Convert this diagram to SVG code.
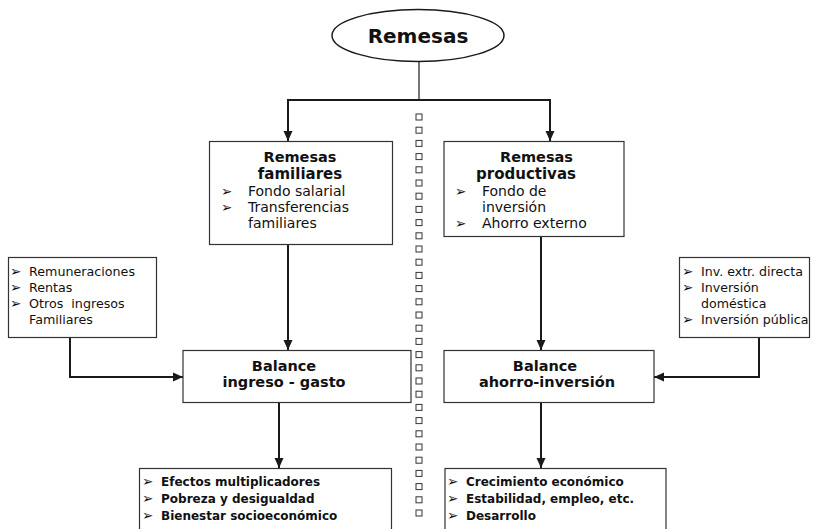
<svg xmlns="http://www.w3.org/2000/svg" xmlns:xlink="http://www.w3.org/1999/xlink" width="822" height="529" viewBox="0 0 822 529">
<style>
.box{fill:#fff;stroke:#333;stroke-width:1.2}
.t{font-family:"DejaVu Sans",Verdana,sans-serif;fill:#111}
.b{font-weight:bold}
.bul{font-family:"DejaVu Sans",sans-serif;font-size:13.5px;fill:#111}
.c{fill:none;stroke:#1a1a1a;stroke-width:2}
.thin{fill:none;stroke:#1a1a1a;stroke-width:1.2}
.sq{fill:#fff;stroke:#333;stroke-width:1}
</style>
<defs>
<marker id="ah" markerUnits="userSpaceOnUse" markerWidth="10" markerHeight="10" viewBox="0 0 10 10" refX="10" refY="5" orient="auto">
<path d="M0,0.5 L10,5 L0,9.5 Z" fill="#1a1a1a"/>
</marker>
<rect id="sq" width="6" height="6" class="sq"/>
</defs>
<rect width="822" height="529" fill="#fff"/>

<g id="connectors">
<line class="thin" x1="419" y1="62" x2="419" y2="100"/>
<line class="c" x1="287" y1="100" x2="551" y2="100"/>
<line class="c" x1="288" y1="100" x2="288" y2="141" marker-end="url(#ah)"/>
<line class="c" x1="550" y1="100" x2="550" y2="141" marker-end="url(#ah)"/>
<line class="c" x1="288" y1="245" x2="288" y2="350" marker-end="url(#ah)"/>
<line class="c" x1="541" y1="237" x2="541" y2="350" marker-end="url(#ah)"/>
<polyline class="c" points="70,337 70,377 183,377" marker-end="url(#ah)"/>
<polyline class="c" points="759,337 759,377 654,377" marker-end="url(#ah)"/>
<line class="c" x1="279" y1="403" x2="279" y2="468" marker-end="url(#ah)"/>
<line class="c" x1="541" y1="403" x2="541" y2="468" marker-end="url(#ah)"/>
</g>

<g id="separator">
<use xlink:href="#sq" x="416" y="114"/><use xlink:href="#sq" x="416" y="127.2"/><use xlink:href="#sq" x="416" y="140.4"/><use xlink:href="#sq" x="416" y="153.6"/><use xlink:href="#sq" x="416" y="166.8"/><use xlink:href="#sq" x="416" y="180"/><use xlink:href="#sq" x="416" y="193.2"/><use xlink:href="#sq" x="416" y="206.4"/><use xlink:href="#sq" x="416" y="219.6"/><use xlink:href="#sq" x="416" y="232.8"/><use xlink:href="#sq" x="416" y="246"/><use xlink:href="#sq" x="416" y="259.2"/><use xlink:href="#sq" x="416" y="272.4"/><use xlink:href="#sq" x="416" y="285.6"/><use xlink:href="#sq" x="416" y="298.8"/><use xlink:href="#sq" x="416" y="312"/><use xlink:href="#sq" x="416" y="325.2"/><use xlink:href="#sq" x="416" y="338.4"/><use xlink:href="#sq" x="416" y="351.6"/><use xlink:href="#sq" x="416" y="364.8"/><use xlink:href="#sq" x="416" y="378"/><use xlink:href="#sq" x="416" y="391.2"/><use xlink:href="#sq" x="416" y="404.4"/><use xlink:href="#sq" x="416" y="417.6"/><use xlink:href="#sq" x="416" y="430.8"/><use xlink:href="#sq" x="416" y="444"/><use xlink:href="#sq" x="416" y="457.2"/><use xlink:href="#sq" x="416" y="470.4"/><use xlink:href="#sq" x="416" y="483.6"/><use xlink:href="#sq" x="416" y="496.8"/><use xlink:href="#sq" x="416" y="510"/>
</g>

<g id="remesas">
<ellipse cx="418" cy="35.5" rx="86" ry="26" fill="#fff" stroke="#1a1a1a" stroke-width="1.5"/>
<text class="t b" x="418" y="43" font-size="20" text-anchor="middle">Remesas</text>
</g>

<g id="remesas-familiares">
<rect class="box" x="209.5" y="141.5" width="183" height="103"/>
<text class="t b" x="300" y="162" font-size="14.5" text-anchor="middle">Remesas</text>
<text class="t b" x="300" y="179" font-size="15" text-anchor="middle">familiares</text>
<text class="bul" x="221" y="195.5">➢</text>
<text class="t" x="248" y="196" font-size="14">Fondo salarial</text>
<text class="bul" x="221" y="211.5">➢</text>
<text class="t" x="248" y="212" font-size="14">Transferencias</text>
<text class="t" x="248" y="228" font-size="14">familiares</text>
</g>

<g id="remesas-productivas">
<rect class="box" x="444" y="141.5" width="180" height="95"/>
<text class="t b" x="536.5" y="162" font-size="14.5" text-anchor="middle">Remesas</text>
<text class="t b" x="526" y="179" font-size="15" text-anchor="middle">productivas</text>
<text class="bul" x="455" y="195.5">➢</text>
<text class="t" x="482" y="196" font-size="14">Fondo de</text>
<text class="t" x="482" y="212" font-size="14">inversión</text>
<text class="bul" x="455" y="227.5">➢</text>
<text class="t" x="482" y="228" font-size="14">Ahorro externo</text>
</g>

<g id="ingresos">
<rect class="box" x="8.5" y="257.5" width="148" height="80"/>
<text class="bul" x="10" y="276">➢</text>
<text class="t" x="29" y="276" font-size="12.7">Remuneraciones</text>
<text class="bul" x="10" y="292">➢</text>
<text class="t" x="29" y="292" font-size="12.7">Rentas</text>
<text class="bul" x="10" y="308">➢</text>
<text class="t" x="29" y="308" font-size="12.7" style="white-space:pre">Otros  ingresos</text>
<text class="t" x="29" y="324" font-size="12.7">Familiares</text>
</g>

<g id="inversiones">
<rect class="box" x="679.5" y="257.5" width="130" height="80"/>
<text class="bul" x="682" y="276">➢</text>
<text class="t" x="701" y="276" font-size="12.6">Inv. extr. directa</text>
<text class="bul" x="682" y="292">➢</text>
<text class="t" x="701" y="292" font-size="12.6">Inversión</text>
<text class="t" x="701" y="308" font-size="12.6">doméstica</text>
<text class="bul" x="682" y="324">➢</text>
<text class="t" x="701" y="324" font-size="12.6">Inversión pública</text>
</g>

<g id="balance-ingreso">
<rect class="box" x="183" y="350.5" width="228" height="52"/>
<text class="t b" x="284" y="371" font-size="14.5" text-anchor="middle">Balance</text>
<text class="t b" x="284" y="387" font-size="14.5" text-anchor="middle">ingreso - gasto</text>
</g>

<g id="balance-ahorro">
<rect class="box" x="444" y="350.5" width="210" height="52"/>
<text class="t b" x="545" y="371" font-size="14.5" text-anchor="middle">Balance</text>
<text class="t b" x="547" y="387" font-size="14.5" text-anchor="middle">ahorro-inversión</text>
</g>

<g id="efectos">
<rect class="box" x="139.5" y="468.5" width="252" height="70"/>
<text class="bul" x="142" y="486">➢</text>
<text class="t b" x="161" y="486" font-size="12">Efectos multiplicadores</text>
<text class="bul" x="142" y="503">➢</text>
<text class="t b" x="161" y="503" font-size="12">Pobreza y desigualdad</text>
<text class="bul" x="142" y="520">➢</text>
<text class="t b" x="161" y="520" font-size="12">Bienestar socioeconómico</text>
</g>

<g id="crecimiento">
<rect class="box" x="445" y="468.5" width="221" height="70"/>
<text class="bul" x="447" y="486">➢</text>
<text class="t b" x="466" y="486" font-size="12">Crecimiento económico</text>
<text class="bul" x="447" y="503">➢</text>
<text class="t b" x="466" y="503" font-size="12">Estabilidad, empleo, etc.</text>
<text class="bul" x="447" y="520">➢</text>
<text class="t b" x="466" y="520" font-size="12">Desarrollo</text>
</g>
</svg>
